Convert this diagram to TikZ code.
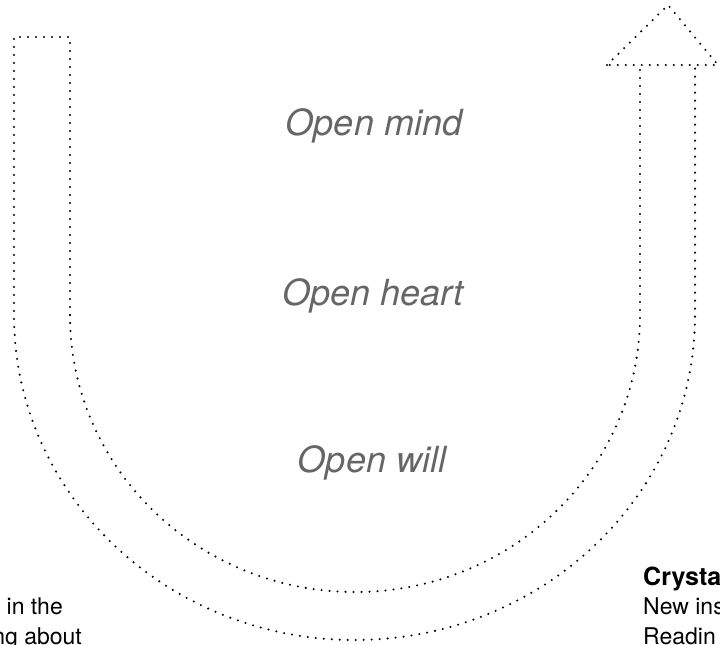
\documentclass[tikz,border=0pt]{standalone}
\usepackage{fontspec}
\setmainfont{TeX Gyre Heros}
\usepackage{xcolor}
\usepackage{tikz}
\usetikzlibrary{calc}
\definecolor{stagegray}{HTML}{666666}
\tikzstyle{band} = [line width=2.3pt, dash pattern=on 0pt off 8pt, line cap=round, draw=black]
\tikzstyle{stage} = [font=\fontsize{36}{40}\selectfont\itshape, text=stagegray, anchor=base, inner sep=0pt]
\tikzstyle{note} = [font=\fontsize{23}{29}\selectfont, inner sep=0pt]

\begin{document}
\begin{tikzpicture}[x=1pt,y=1pt]
% Frame
\path[use as bounding box, clip] (0,0) rectangle (720,645);

% Corner points
\coordinate (lo) at (14,330);
\coordinate (li) at (70,330);
\coordinate (ro) at (695,580);
\coordinate (ri) at (640,580);
\coordinate (tipl) at (607,580);
\coordinate (tip) at (668,640);
\coordinate (tipr) at (718,580);

% U band
\draw[band] (li) -- (70,608) -- (14,608) -- (lo)
  arc[start angle=180, end angle=360, x radius=340.5, y radius=325] -- (ro);
\draw[band] (li)
  arc[start angle=180, end angle=360, x radius=285, y radius=277] -- (ri);

% Arrow head
\draw[band] (tipl) -- (tip) -- (tipr) -- cycle;

% Stages
\node[stage] (mind) at (374,509) {Open mind};
\node[stage] (heart) at (373,339) {Open heart};
\node[stage] (will) at (372,172) {Open will};

% Notes
\node[note, anchor=base east] (l1) at (63,30) {in the};
\node[note, anchor=base east] (l2) at (82,1) {ng about};
\node[note, anchor=base west, font=\fontsize{25}{29}\selectfont\bfseries] (r1) at (643,59) {Crysta};
\node[note, anchor=base west] (r2) at (643,30) {New ins};
\node[note, anchor=base west] (r3) at (643,1) {Readin};
\end{tikzpicture}
\end{document}
